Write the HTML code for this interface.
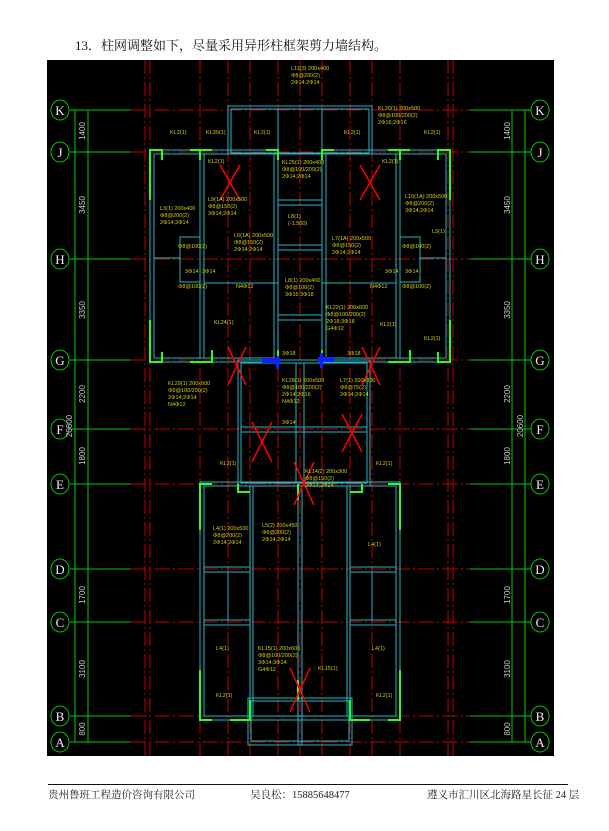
<!DOCTYPE html>
<html><head><meta charset="utf-8"><style>
body{margin:0;background:#fff;width:609px;height:831px;overflow:hidden;position:relative;font-family:"Liberation Serif","Noto Serif CJK SC",serif}
.t{position:absolute;left:75px;top:35px;font-size:13px;color:#111}
.f{position:absolute;top:787px;font-size:10.5px;color:#222}
</style></head><body>
<div class="t">13．柱网调整如下，尽量采用异形柱框架剪力墙结构。</div>
<svg style="position:absolute;left:0;top:0" width="609" height="831">
<rect x="47" y="60" width="507" height="696" fill="#000"/>
<g stroke="#c00000" stroke-width="1" stroke-dasharray="14 3 2 3" fill="none">
<line x1="145" y1="60" x2="145" y2="756"/><line x1="150" y1="60" x2="150" y2="756"/>
<line x1="200" y1="60" x2="200" y2="756"/><line x1="228" y1="60" x2="228" y2="756"/>
<line x1="250" y1="60" x2="250" y2="756"/><line x1="278" y1="60" x2="278" y2="756"/>
<line x1="300" y1="60" x2="300" y2="756"/><line x1="322" y1="60" x2="322" y2="756"/>
<line x1="350" y1="60" x2="350" y2="756"/><line x1="372" y1="60" x2="372" y2="756"/>
<line x1="400" y1="60" x2="400" y2="756"/><line x1="448" y1="60" x2="448" y2="756"/>
<line x1="453" y1="60" x2="453" y2="756"/>
</g>
<g stroke="#c00000" stroke-width="1" stroke-dasharray="16 3 2 3">
<line x1="130" y1="110" x2="470" y2="110"/><line x1="130" y1="152" x2="470" y2="152"/>
<line x1="130" y1="259" x2="470" y2="259"/><line x1="130" y1="360" x2="470" y2="360"/>
<line x1="130" y1="429" x2="470" y2="429"/><line x1="130" y1="484" x2="470" y2="484"/>
<line x1="130" y1="569" x2="470" y2="569"/><line x1="130" y1="622" x2="470" y2="622"/>
<line x1="130" y1="716" x2="470" y2="716"/><line x1="130" y1="742" x2="470" y2="742"/>
</g>
<g stroke="#0c0" stroke-width="1" fill="none">
<line x1="70" y1="110" x2="130" y2="110"/><line x1="70" y1="152" x2="130" y2="152"/>
<line x1="70" y1="259" x2="130" y2="259"/><line x1="70" y1="360" x2="130" y2="360"/>
<line x1="70" y1="429" x2="130" y2="429"/><line x1="70" y1="484" x2="130" y2="484"/>
<line x1="70" y1="569" x2="130" y2="569"/><line x1="70" y1="622" x2="130" y2="622"/>
<line x1="70" y1="716" x2="130" y2="716"/><line x1="70" y1="742" x2="130" y2="742"/>
<line x1="470" y1="110" x2="531" y2="110"/><line x1="470" y1="152" x2="531" y2="152"/>
<line x1="470" y1="259" x2="531" y2="259"/><line x1="470" y1="360" x2="531" y2="360"/>
<line x1="470" y1="429" x2="531" y2="429"/><line x1="470" y1="484" x2="531" y2="484"/>
<line x1="470" y1="569" x2="531" y2="569"/><line x1="470" y1="622" x2="531" y2="622"/>
<line x1="470" y1="716" x2="531" y2="716"/><line x1="470" y1="742" x2="531" y2="742"/>
<line x1="88" y1="110" x2="88" y2="742"/><line x1="75" y1="110" x2="75" y2="742"/>
<line x1="512" y1="110" x2="512" y2="742"/><line x1="525" y1="110" x2="525" y2="742"/>
<ellipse cx="60" cy="110" rx="9" ry="10"/><ellipse cx="60" cy="152" rx="9" ry="10"/><ellipse cx="60" cy="259" rx="9" ry="10"/><ellipse cx="60" cy="360" rx="9" ry="10"/><ellipse cx="60" cy="429" rx="9" ry="10"/><ellipse cx="60" cy="484" rx="9" ry="10"/><ellipse cx="60" cy="569" rx="9" ry="10"/><ellipse cx="60" cy="622" rx="9" ry="10"/><ellipse cx="60" cy="716" rx="9" ry="10"/><ellipse cx="60" cy="742" rx="9" ry="10"/>
<ellipse cx="540" cy="110" rx="9" ry="10"/><ellipse cx="540" cy="152" rx="9" ry="10"/><ellipse cx="540" cy="259" rx="9" ry="10"/><ellipse cx="540" cy="360" rx="9" ry="10"/><ellipse cx="540" cy="429" rx="9" ry="10"/><ellipse cx="540" cy="484" rx="9" ry="10"/><ellipse cx="540" cy="569" rx="9" ry="10"/><ellipse cx="540" cy="622" rx="9" ry="10"/><ellipse cx="540" cy="716" rx="9" ry="10"/><ellipse cx="540" cy="742" rx="9" ry="10"/>
</g>
<g fill="#eee" font-size="13" font-family="Liberation Serif,serif" text-anchor="middle">
<text x="60" y="115">K</text><text x="60" y="157">J</text><text x="60" y="264">H</text><text x="60" y="365">G</text><text x="60" y="434">F</text><text x="60" y="489">E</text><text x="60" y="574">D</text><text x="60" y="627">C</text><text x="60" y="721">B</text><text x="60" y="747">A</text>
<text x="540" y="115">K</text><text x="540" y="157">J</text><text x="540" y="264">H</text><text x="540" y="365">G</text><text x="540" y="434">F</text><text x="540" y="489">E</text><text x="540" y="574">D</text><text x="540" y="627">C</text><text x="540" y="721">B</text><text x="540" y="747">A</text>
</g>
<g fill="#ccc" font-size="8" font-family="Liberation Sans,sans-serif" text-anchor="middle">
<text transform="translate(85,131) rotate(-90)">1400</text><text transform="translate(85,205) rotate(-90)">3450</text><text transform="translate(85,310) rotate(-90)">3350</text><text transform="translate(85,394) rotate(-90)">2200</text><text transform="translate(85,456) rotate(-90)">1800</text><text transform="translate(85,595) rotate(-90)">1700</text><text transform="translate(85,669) rotate(-90)">3100</text><text transform="translate(85,729) rotate(-90)">800</text><text transform="translate(72,426) rotate(-90)">20600</text>
<text transform="translate(510,131) rotate(-90)">1400</text><text transform="translate(510,205) rotate(-90)">3450</text><text transform="translate(510,310) rotate(-90)">3350</text><text transform="translate(510,394) rotate(-90)">2200</text><text transform="translate(510,456) rotate(-90)">1800</text><text transform="translate(510,595) rotate(-90)">1700</text><text transform="translate(510,669) rotate(-90)">3100</text><text transform="translate(510,729) rotate(-90)">800</text><text transform="translate(523,426) rotate(-90)">20600</text>
</g>
<g stroke="#22b8c8" stroke-width="1" fill="none">
<rect x="228" y="106" width="144" height="48"/><rect x="231" y="109" width="138" height="44"/>
<rect x="150" y="150" width="128" height="212"/><rect x="154" y="154" width="120" height="204"/>
<rect x="322" y="150" width="128" height="212"/><rect x="326" y="154" width="120" height="204"/>
<line x1="278" y1="109" x2="278" y2="362"/><line x1="322" y1="109" x2="322" y2="362"/>
<line x1="200" y1="154" x2="200" y2="358"/><line x1="204" y1="154" x2="204" y2="358"/>
<line x1="396" y1="154" x2="396" y2="358"/><line x1="400" y1="154" x2="400" y2="358"/>
<line x1="278" y1="200" x2="322" y2="200"/><line x1="278" y1="205" x2="322" y2="205"/>
<line x1="278" y1="245" x2="322" y2="245"/><line x1="278" y1="250" x2="322" y2="250"/>
<line x1="278" y1="315" x2="322" y2="315"/><line x1="278" y1="320" x2="322" y2="320"/>
<rect x="180" y="237" width="20" height="45"/><rect x="400" y="237" width="20" height="45"/>
<line x1="154" y1="258" x2="180" y2="258"/><line x1="420" y1="258" x2="446" y2="258"/>
<line x1="204" y1="283" x2="278" y2="283"/><line x1="322" y1="283" x2="396" y2="283"/>
<rect x="238" y="360" width="132" height="126"/><rect x="241" y="363" width="126" height="120"/>
<line x1="296" y1="363" x2="296" y2="483"/><line x1="304" y1="363" x2="304" y2="483"/>
<line x1="241" y1="427" x2="367" y2="427"/><line x1="241" y1="432" x2="367" y2="432"/>
<rect x="200" y="482" width="200" height="238"/><rect x="204" y="486" width="192" height="230"/>
<line x1="250" y1="486" x2="250" y2="716"/><line x1="253" y1="486" x2="253" y2="716"/>
<line x1="347" y1="486" x2="347" y2="716"/><line x1="350" y1="486" x2="350" y2="716"/>
<line x1="298" y1="490" x2="298" y2="745"/><line x1="302" y1="490" x2="302" y2="745"/>
<line x1="204" y1="567" x2="250" y2="567"/><line x1="204" y1="572" x2="250" y2="572"/>
<line x1="204" y1="620" x2="250" y2="620"/><line x1="204" y1="625" x2="250" y2="625"/>
<line x1="350" y1="567" x2="396" y2="567"/><line x1="350" y1="572" x2="396" y2="572"/>
<line x1="350" y1="620" x2="396" y2="620"/><line x1="350" y1="625" x2="396" y2="625"/>
<line x1="228" y1="572" x2="228" y2="620"/><line x1="372" y1="572" x2="372" y2="620"/>
<rect x="248" y="698" width="104" height="47"/><rect x="251" y="701" width="98" height="40"/>
</g>
<g stroke="#2f2" stroke-width="2" fill="none">
<path d="M162 160 V150 H150 V200"/><path d="M200 150 V160 M190 150 H212"/><path d="M266 150 H278 V160"/>
<path d="M162 352 V362 H150 V320"/><path d="M190 362 H212 V350"/><path d="M270 360 H278 V350"/>
<path d="M438 160 V150 H450 V200"/><path d="M400 150 V160 M388 150 H410"/><path d="M322 160 V150 H334"/>
<path d="M438 352 V362 H450 V320"/><path d="M388 362 H410 V350"/><path d="M322 350 V360 H330"/>
<path d="M212 484 H200 V530"/><path d="M388 484 H400 V530"/><path d="M238 484 V492 H250"/><path d="M362 484 V492 H350"/>
<path d="M200 670 V720 H212"/><path d="M400 670 V720 H388"/><path d="M230 720 H250 V700"/><path d="M370 720 H350 V700"/>
<path d="M298 484 V500"/><path d="M298 680 V700"/>
</g>
<g fill="#1020ff"><rect x="262" y="358" width="18" height="5"/><rect x="276" y="356" width="3" height="13"/><rect x="318" y="357" width="16" height="5"/><rect x="320" y="353" width="3" height="15"/></g>
<g stroke="#f00" stroke-width="1.5">
<line x1="220" y1="165" x2="240" y2="200"/><line x1="240" y1="165" x2="220" y2="200"/>
<line x1="360" y1="165" x2="380" y2="200"/><line x1="380" y1="165" x2="360" y2="200"/>
<line x1="228" y1="347" x2="246" y2="385"/><line x1="246" y1="347" x2="228" y2="385"/>
<line x1="362" y1="347" x2="380" y2="385"/><line x1="380" y1="347" x2="362" y2="385"/>
<line x1="252" y1="422" x2="272" y2="462"/><line x1="272" y1="422" x2="252" y2="462"/>
<line x1="342" y1="414" x2="362" y2="452"/><line x1="362" y1="414" x2="342" y2="452"/>
<line x1="294" y1="462" x2="314" y2="505"/><line x1="314" y1="462" x2="294" y2="505"/>
<line x1="290" y1="668" x2="310" y2="712"/><line x1="310" y1="668" x2="290" y2="712"/>
</g>
<g fill="#d6d000" font-size="5.5" font-family="Liberation Sans,sans-serif">
<text x="291" y="70">L11(3) 200x400</text><text x="291" y="77">Φ8@200(2)</text><text x="291" y="84">2Φ14;2Φ14</text>
<text x="378" y="110">KL30(1) 200x500</text><text x="378" y="117">Φ8@100/200(2)</text><text x="378" y="124">2Φ16;2Φ16</text>
<text x="170" y="134">KL2(1)</text><text x="206" y="134">KL30(1)</text><text x="254" y="134">KL2(1)</text><text x="344" y="134">KL2(1)</text><text x="424" y="134">KL2(1)</text>
<text x="208" y="163">KL2(1)</text><text x="382" y="163">KL2(1)</text>
<text x="282" y="164">KL25(1) 200x400</text><text x="282" y="171">Φ8@100/200(2)</text><text x="282" y="178">2Φ14;2Φ14</text>
<text x="160" y="210">L3(1) 200x400</text><text x="160" y="217">Φ8@200(2)</text><text x="160" y="224">2Φ14;2Φ14</text>
<text x="208" y="201">L9(1A) 200x500</text><text x="208" y="208">Φ8@150(2)</text><text x="208" y="215">3Φ14;2Φ14</text>
<text x="234" y="237">L6(1A) 200x500</text><text x="234" y="244">Φ8@150(2)</text><text x="234" y="251">2Φ14;2Φ14</text>
<text x="288" y="218">L8(1)</text><text x="288" y="225">(-1.500)</text>
<text x="405" y="198">L10(1A) 200x500</text><text x="405" y="205">Φ8@200(2)</text><text x="405" y="212">3Φ14;2Φ14</text>
<text x="332" y="240">L7(1A) 200x500</text><text x="332" y="247">Φ8@150(2)</text><text x="332" y="254">2Φ14;2Φ14</text><text x="432" y="233">L3(1)</text>
<text x="178" y="248">Φ8@100(2)</text><text x="178" y="288">Φ8@100(2)</text><text x="185" y="273">3Φ14</text><text x="202" y="273">3Φ14</text><text x="236" y="288">N4Φ12</text>
<text x="402" y="248">Φ8@100(2)</text><text x="402" y="288">Φ8@100(2)</text><text x="385" y="273">3Φ14</text><text x="405" y="273">3Φ14</text><text x="370" y="288">N4Φ12</text>
<text x="285" y="282">L8(1) 200x400</text><text x="285" y="289">Φ8@100(2)</text><text x="285" y="296">3Φ16;3Φ18</text>
<text x="326" y="309">KL22(1) 200x600</text><text x="326" y="316">Φ8@100/200(2)</text><text x="326" y="323">2Φ18;3Φ18</text><text x="326" y="330">G4Φ12</text>
<text x="214" y="324">KL24(1)</text><text x="380" y="326">KL2(1)</text><text x="424" y="340">KL2(1)</text>
<text x="282" y="355">3Φ18</text><text x="347" y="355">3Φ18</text>
<text x="168" y="385">KL29(1) 200x600</text><text x="168" y="392">Φ8@100/200(2)</text><text x="168" y="399">2Φ14;2Φ14</text><text x="168" y="406">N4Φ12</text>
<text x="282" y="382">KL28(1) 200x500</text><text x="282" y="389">Φ8@100/200(2)</text><text x="282" y="396">2Φ14;2Φ16</text><text x="282" y="403">N4Φ12</text><text x="282" y="424">3Φ14</text>
<text x="340" y="382">L7(1) 200x300</text><text x="340" y="389">Φ8@75(2)</text><text x="340" y="396">2Φ14;2Φ14</text>
<text x="220" y="465">KL2(1)</text><text x="376" y="465">KL2(1)</text>
<text x="305" y="473">KL14(2) 200x300</text><text x="305" y="480">Φ8@150(2)</text><text x="305" y="487">2Φ14;2Φ14</text>
<text x="213" y="530">L4(1) 200x500</text><text x="213" y="537">Φ8@200(2)</text><text x="213" y="544">2Φ14;2Φ14</text>
<text x="262" y="527">L5(2) 200x450</text><text x="262" y="534">Φ8@200(2)</text><text x="262" y="541">2Φ14;2Φ14</text>
<text x="368" y="546">L4(1)</text><text x="216" y="650">L4(1)</text><text x="372" y="650">L4(1)</text>
<text x="258" y="650">KL15(1) 200x600</text><text x="258" y="657">Φ8@100/200(2)</text><text x="258" y="664">3Φ14;3Φ14</text><text x="258" y="671">G4Φ12</text>
<text x="318" y="670">KL15(1)</text><text x="216" y="697">KL2(1)</text><text x="376" y="697">KL2(1)</text>
</g>
</svg>
<div style="position:absolute;left:48px;top:784px;width:520px;height:1px;background:#111"></div>
<div class="f" style="left:48px">贵州鲁班工程造价咨询有限公司</div>
<div class="f" style="left:250px">吴良松：15885648477</div>
<div class="f" style="left:427px">遵义市汇川区北海路星长征 24 层</div>
</body></html>
